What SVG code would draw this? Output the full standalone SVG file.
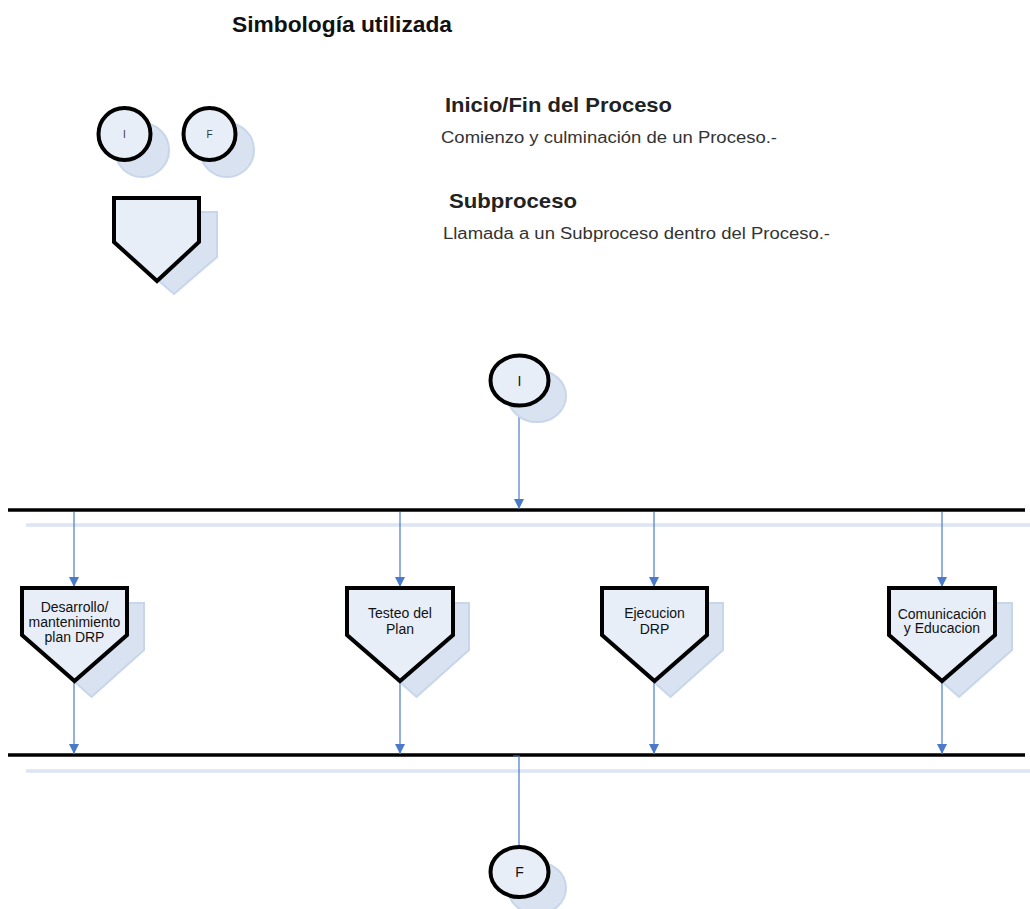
<svg xmlns="http://www.w3.org/2000/svg" width="1030" height="909" viewBox="0 0 1030 909">
  <defs>
    <marker id="arrow" viewBox="0 0 10 10" refX="10" refY="5" markerWidth="10" markerHeight="10" markerUnits="userSpaceOnUse" orient="auto">
      <path d="M0,0 L10,5 L0,10 z" fill="#4A7BC8"/>
    </marker>
  </defs>
  <style>
    text { font-family: "Liberation Sans", Arial, sans-serif; fill: #222; }
    .title { font-size: 22.5px; font-weight: bold; fill: #111; }
    .head { font-size: 21px; font-weight: bold; fill: #222; }
    .desc { font-size: 16px; fill: #333; }
    .lbl { font-size: 14px; text-anchor: middle; fill: #111; }
    .sym { font-size: 10px; text-anchor: middle; fill: #333; }
    .symL { font-size: 14px; text-anchor: middle; fill: #111; }
    .shape { fill: #E8EEF8; stroke: #000; stroke-width: 4; stroke-linejoin: miter; }
    .shadow { fill: #D8E2F1; stroke: #C8D6EC; stroke-width: 2; }
    .bar { stroke: #000; stroke-width: 3.5; }
    .barshade { stroke: #DCE5F3; stroke-width: 3.5; }
    .conn { stroke: #4A7BC8; stroke-width: 1.2; fill: none; }
  </style>

  <!-- Legend -->
  <g id="legend">
    <text class="title" x="232" y="31.5" textLength="220" lengthAdjust="spacingAndGlyphs">Simbología utilizada</text>
    <g id="legend-start">
      <circle class="shadow" cx="142" cy="150" r="27"/>
      <circle class="shape" cx="124.5" cy="134" r="26"/>
      <text class="sym" x="124.5" y="138">I</text>
    </g>
    <g id="legend-end">
      <circle class="shadow" cx="227" cy="150" r="27"/>
      <circle class="shape" cx="209.5" cy="134" r="26"/>
      <text class="sym" x="209.5" y="138">F</text>
    </g>
    <g id="legend-sub">
      <path class="shadow" d="M131,212 H217 V257 L174,294 L131,257 Z"/>
      <path class="shape" d="M114,198 H199 V242 L157,281 L114,242 Z"/>
    </g>
    <text class="head" x="445" y="112" textLength="227" lengthAdjust="spacingAndGlyphs">Inicio/Fin del Proceso</text>
    <text class="desc" x="441" y="143" textLength="336" lengthAdjust="spacingAndGlyphs">Comienzo y culminación de un Proceso.-</text>
    <text class="head" x="449" y="208" textLength="128" lengthAdjust="spacingAndGlyphs">Subproceso</text>
    <text class="desc" x="443" y="239" textLength="387" lengthAdjust="spacingAndGlyphs">Llamada a un Subproceso dentro del Proceso.-</text>
  </g>

  <!-- Bars -->
  <g id="bars">
    <line class="barshade" x1="26" y1="525" x2="1030" y2="525"/>
    <line class="bar" x1="8" y1="510" x2="1025" y2="510"/>
    <line class="barshade" x1="26" y1="771" x2="1030" y2="771"/>
    <line class="bar" x1="8" y1="755" x2="1025" y2="755"/>
  </g>

  <!-- Connectors -->
  <g id="connectors">
    <line class="conn" x1="519" y1="407" x2="519" y2="509" marker-end="url(#arrow)"/>
    <line class="conn" x1="74" y1="512" x2="74" y2="587" marker-end="url(#arrow)"/>
    <line class="conn" x1="400" y1="512" x2="400" y2="587" marker-end="url(#arrow)"/>
    <line class="conn" x1="654" y1="512" x2="654" y2="587" marker-end="url(#arrow)"/>
    <line class="conn" x1="942" y1="512" x2="942" y2="587" marker-end="url(#arrow)"/>
    <line class="conn" x1="74" y1="682" x2="74" y2="754" marker-end="url(#arrow)"/>
    <line class="conn" x1="400" y1="682" x2="400" y2="754" marker-end="url(#arrow)"/>
    <line class="conn" x1="654" y1="682" x2="654" y2="754" marker-end="url(#arrow)"/>
    <line class="conn" x1="942" y1="682" x2="942" y2="754" marker-end="url(#arrow)"/>
    <path class="conn" d="M513,756 H519 V847"/>
  </g>

  <!-- Start node -->
  <g id="node-start">
    <ellipse class="shadow" cx="537" cy="396" rx="29" ry="26"/>
    <ellipse class="shape" cx="519.5" cy="380.5" rx="29" ry="25"/>
    <text class="symL" x="519.5" y="385.5">I</text>
  </g>

  <!-- Subprocess nodes -->
  <g id="node-desarrollo">
    <path class="shadow" d="M39,603 H144 V650 L91.5,697 L39,650 Z"/>
    <path class="shape" d="M22,588 H127 V635 L74.5,681 L22,635 Z"/>
    <text class="lbl" x="74.5" y="612">Desarrollo/</text>
    <text class="lbl" x="74.5" y="627">mantenimiento</text>
    <text class="lbl" x="74.5" y="642">plan DRP</text>
  </g>
  <g id="node-testeo">
    <path class="shadow" d="M364,603 H469 V650 L416.5,697 L364,650 Z"/>
    <path class="shape" d="M347,588 H453 V635 L400,681 L347,635 Z"/>
    <text class="lbl" x="400" y="618">Testeo del</text>
    <text class="lbl" x="400" y="634">Plan</text>
  </g>
  <g id="node-ejecucion">
    <path class="shadow" d="M618,603 H723 V650 L670.5,697 L618,650 Z"/>
    <path class="shape" d="M602,588 H707 V635 L654.5,681 L602,635 Z"/>
    <text class="lbl" x="654.5" y="618">Ejecucion</text>
    <text class="lbl" x="654.5" y="634">DRP</text>
  </g>
  <g id="node-comunicacion">
    <path class="shadow" d="M906,603 H1012 V650 L959,697 L906,650 Z"/>
    <path class="shape" d="M889,588 H995 V635 L942,681 L889,635 Z"/>
    <text class="lbl" x="942" y="619">Comunicación</text>
    <text class="lbl" x="942" y="633">y Educacion</text>
  </g>

  <!-- End node -->
  <g id="node-end">
    <ellipse class="shadow" cx="537" cy="888" rx="29" ry="26"/>
    <ellipse class="shape" cx="519.5" cy="872" rx="29" ry="25"/>
    <text class="symL" x="519.5" y="877">F</text>
  </g>
</svg>
